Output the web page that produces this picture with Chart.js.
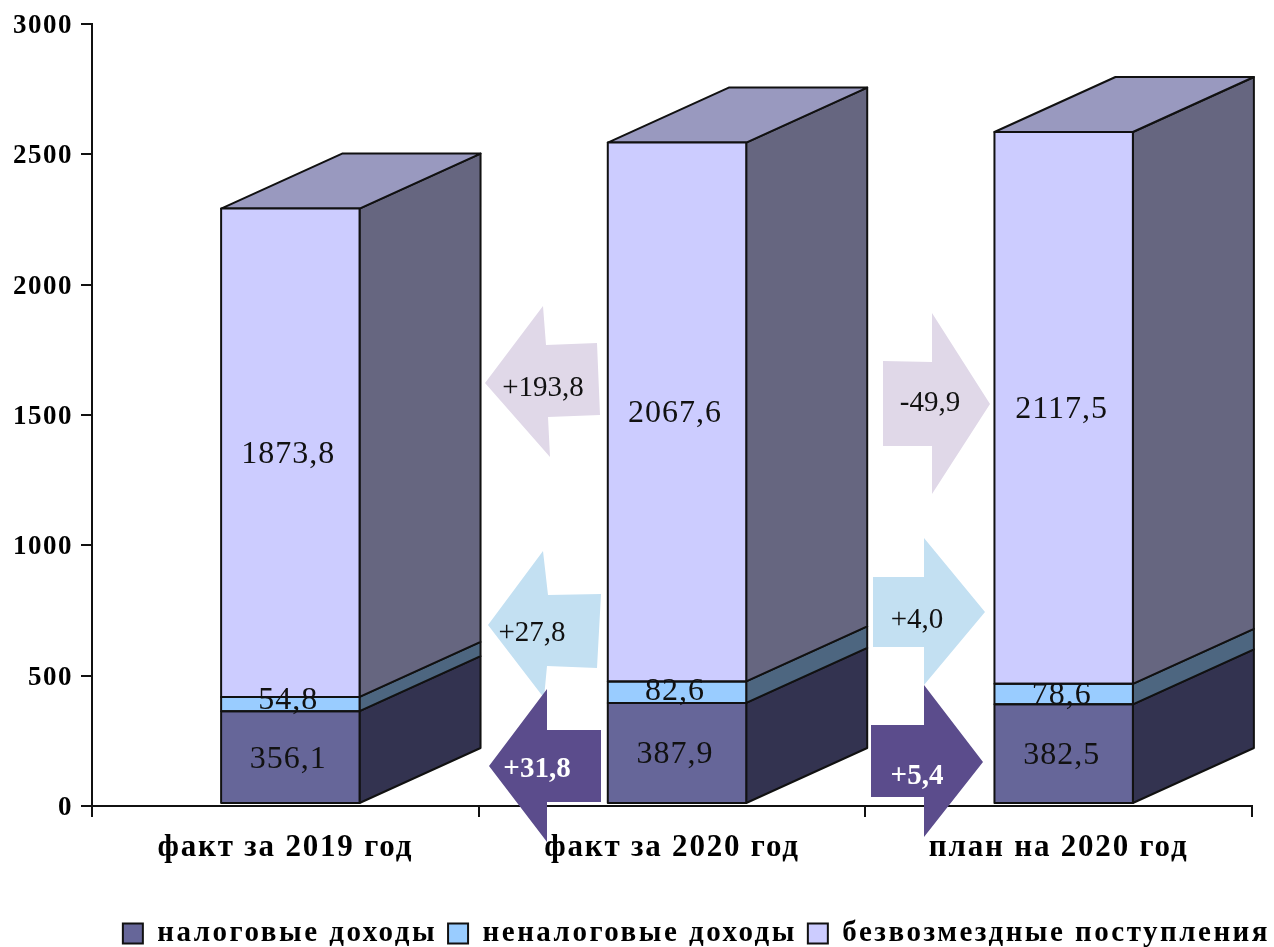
<!DOCTYPE html>
<html lang="ru">
<head>
<meta charset="utf-8">
<title>Доходы бюджета</title>
<script src="https://cdn.jsdelivr.net/npm/chart.js@4"></script>
<style>
    html, body { margin: 0; padding: 0; background: #fff; }
    canvas { display: block; }
</style>
</head>
<body>
<canvas id="chart" width="1274" height="947"></canvas>
<script>
// Chart data
const categories = ['факт за 2019 год', 'факт за 2020 год', 'план на 2020 год'];
const taxIncome = [356.1, 387.9, 382.5];
const nonTaxIncome = [54.8, 82.6, 78.6];
const grants = [1873.8, 2067.6, 2117.5];
const seriesNames = ['налоговые доходы', 'неналоговые доходы', 'безвозмездные поступления'];
const arrowLabels = ['+193,8', '-49,9', '+27,8', '+4,0', '+31,8', '+5,4'];

const FONT = '"Liberation Serif", serif';
const INK = '#111';

// Pseudo-3D look of the bars
const DEPTH_X = 121;
const DEPTH_Y = -55;
const SHIFT_X = 5;
const SHIFT_Y = -2;
const frontColors = ['#666699', '#99CCFF', '#CCCCFF'];
const sideColors = ['#333350', '#4D6680', '#666680'];
const topColor = '#9999BF';
// Labels of the thin middle segment sit off-centre in the original
const midLabelRaise = [5, 3, 0];

// Callout arrows between the bars, in page pixels
const arrowShapes = [
    { color: '#E0D8E8', ink: '#111', bold: false, text: [543, 388],
      points: [[485, 383], [543, 306], [546, 345], [597, 343], [600, 415], [548, 417], [550, 457]] },
    { color: '#E0D8E8', ink: '#111', bold: false, text: [930, 403],
      points: [[883, 361], [932, 362], [932, 313], [990, 404], [932, 494], [932, 446], [883, 446]] },
    { color: '#C3E0F2', ink: '#111', bold: false, text: [532, 633],
      points: [[488, 625], [543, 551], [548, 595], [601, 594], [597, 668], [547, 666], [544, 698]] },
    { color: '#C3E0F2', ink: '#111', bold: false, text: [917, 620],
      points: [[873, 577], [924, 577], [924, 538], [985, 612], [924, 685], [924, 647], [873, 647]] },
    { color: '#5B4C8C', ink: '#fff', bold: true, text: [537, 770],
      points: [[489, 766], [547, 689], [547, 730], [601, 730], [601, 802], [547, 802], [547, 842]] },
    { color: '#5B4C8C', ink: '#fff', bold: true, text: [917, 777],
      points: [[871, 725], [924, 725], [924, 685], [983, 762], [924, 837], [924, 797], [871, 797]] }
];

// Run a box's text drawing with its own letter spacing and vertical nudge
function withTextStyle(box, method, spacing, dy) {
    const original = box[method].bind(box);
    box[method] = (...args) => {
        const ctx = box.ctx;
        ctx.save();
        ctx.letterSpacing = spacing;
        ctx.translate(0, dy);
        original(...args);
        ctx.restore();
    };
}

const bars3d = {
    id: 'bars3d',
    beforeLayout(chart) {
        // legend widths are measured here, so they need the spacing too
        chart.ctx.letterSpacing = '2.5px';
    },
    afterLayout(chart) {
        chart.ctx.letterSpacing = '0px';
        // legend sits lower and further right than the default layout allows
        chart.legend.top += 11;
        chart.legend.bottom += 11;
        chart.legend.right += 29;
        if (!chart.$textStyled) {
            chart.$textStyled = true;
            withTextStyle(chart.legend, 'draw', '2.5px', 0);
            withTextStyle(chart.scales.x, 'drawLabels', '1.8px', 0);
            withTextStyle(chart.scales.y, 'drawLabels', '1.5px', 2);
        }
    },
    beforeDatasetsDraw(chart) {
        const ctx = chart.ctx;
        ctx.save();
        ctx.translate(SHIFT_X, SHIFT_Y);
        ctx.lineWidth = 2;
        ctx.lineJoin = 'round';
        ctx.strokeStyle = INK;
        chart.data.datasets.forEach((ds, i) => {
            chart.getDatasetMeta(i).data.forEach(bar => {
                const right = bar.x + bar.width / 2;
                const left = bar.x - bar.width / 2;
                // right face
                ctx.beginPath();
                ctx.moveTo(right, bar.y);
                ctx.lineTo(right + DEPTH_X, bar.y + DEPTH_Y);
                ctx.lineTo(right + DEPTH_X, bar.base + DEPTH_Y);
                ctx.lineTo(right, bar.base);
                ctx.closePath();
                ctx.fillStyle = sideColors[i];
                ctx.fill();
                ctx.stroke();
                // top face, only on the last segment
                if (i === chart.data.datasets.length - 1) {
                    ctx.beginPath();
                    ctx.moveTo(left, bar.y);
                    ctx.lineTo(left + DEPTH_X, bar.y + DEPTH_Y);
                    ctx.lineTo(right + DEPTH_X, bar.y + DEPTH_Y);
                    ctx.lineTo(right, bar.y);
                    ctx.closePath();
                    ctx.fillStyle = topColor;
                    ctx.fill();
                    ctx.stroke();
                }
            });
        });
    },
    afterDatasetsDraw(chart) {
        const ctx = chart.ctx;
        // outlines and value labels, still in the shifted space
        chart.data.datasets.forEach((ds, i) => {
            chart.getDatasetMeta(i).data.forEach(bar => {
                ctx.strokeRect(bar.x - bar.width / 2, bar.y, bar.width, bar.base - bar.y);
            });
        });
        ctx.font = '32px ' + FONT;
        ctx.letterSpacing = '1px';
        ctx.fillStyle = INK;
        ctx.textAlign = 'center';
        ctx.textBaseline = 'middle';
        chart.data.datasets.forEach((ds, i) => {
            chart.getDatasetMeta(i).data.forEach((bar, j) => {
                const raise = i === 1 ? midLabelRaise[j] : 0;
                const text = ds.data[j].toFixed(1).replace('.', ',');
                ctx.fillText(text, bar.x - 2, (bar.y + bar.base) / 2 + 2 - raise);
            });
        });
        ctx.restore();

        // callout arrows
        arrowShapes.forEach((arrow, i) => {
            ctx.save();
            ctx.beginPath();
            arrow.points.forEach(([x, y], n) => n ? ctx.lineTo(x, y) : ctx.moveTo(x, y));
            ctx.closePath();
            ctx.fillStyle = arrow.color;
            ctx.fill();
            ctx.font = (arrow.bold ? 'bold ' : '') + '29px ' + FONT;
            ctx.fillStyle = arrow.ink;
            ctx.textAlign = 'center';
            ctx.textBaseline = 'middle';
            ctx.fillText(arrowLabels[i], arrow.text[0], arrow.text[1]);
            ctx.restore();
        });
    }
};

new Chart(document.getElementById('chart'), {
    type: 'bar',
    data: {
        labels: categories,
        datasets: [taxIncome, nonTaxIncome, grants].map((values, i) => ({
            label: seriesNames[i],
            data: values,
            backgroundColor: frontColors[i],
            borderColor: INK,
            borderWidth: 0,
            barPercentage: 0.358,
            categoryPercentage: 1
        }))
    },
    plugins: [bars3d],
    options: {
        responsive: false,
        animation: false,
        layout: { padding: { top: 23, right: 22, bottom: 0, left: 0 } },
        plugins: {
            tooltip: { enabled: false },
            legend: {
                position: 'bottom',
                align: 'end',
                labels: {
                    boxWidth: 20,
                    boxHeight: 20,
                    padding: 11,
                    color: '#000',
                    // swatches get the outline the bars have
                    generateLabels(chart) {
                        return chart.data.datasets.map((ds, i) => ({
                            text: ds.label,
                            fillStyle: ds.backgroundColor,
                            strokeStyle: INK,
                            lineWidth: 2,
                            datasetIndex: i
                        }));
                    },
                    font: { family: FONT, size: 29, weight: 'bold' }
                }
            }
        },
        scales: {
            x: {
                stacked: true,
                afterFit(scale) { scale.height = 91; },
                border: { color: INK, width: 2 },
                grid: { drawOnChartArea: false, color: INK, lineWidth: 2, tickLength: 11 },
                ticks: {
                    z: 1,
                    color: '#000',
                    padding: 12,
                    maxRotation: 0,
                    autoSkip: false,
                    font: { family: FONT, size: 31, weight: 'bold' }
                }
            },
            y: {
                stacked: true,
                min: 0,
                max: 3000,
                afterFit(scale) { scale.width = 92; },
                border: { color: INK, width: 2 },
                grid: { drawOnChartArea: false, color: INK, lineWidth: 2, tickLength: 11 },
                ticks: {
                    stepSize: 500,
                    color: '#000',
                    padding: 8,
                    callback: value => String(value),
                    font: { family: FONT, size: 27, weight: 'bold' }
                }
            }
        }
    }
});
</script>
</body>
</html>
